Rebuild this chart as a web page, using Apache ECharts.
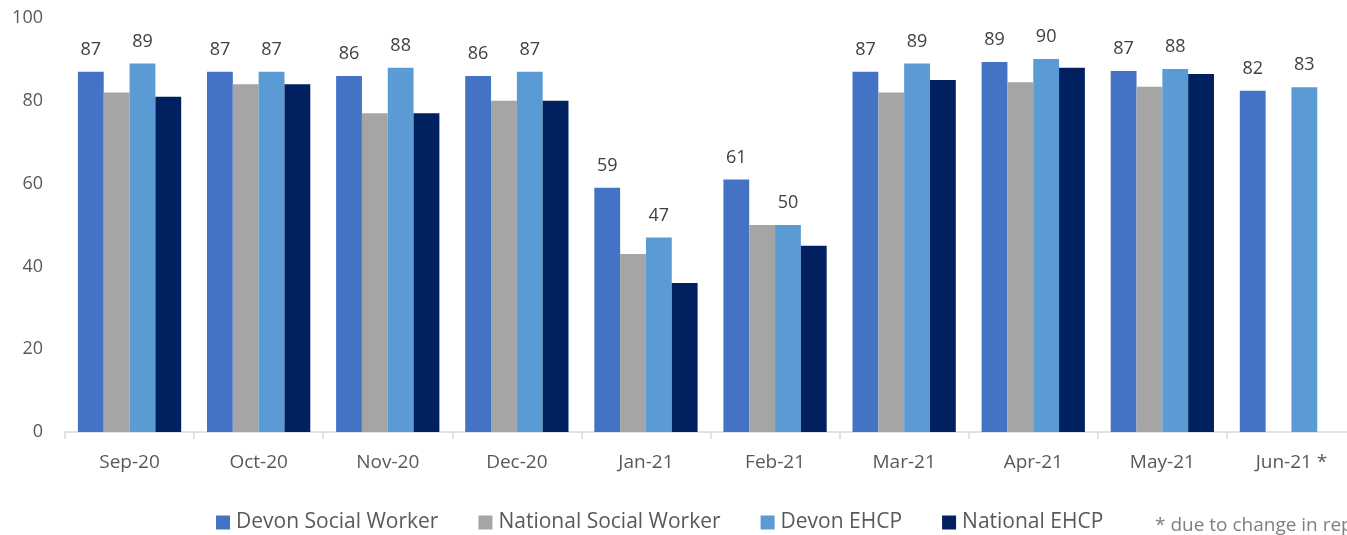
<!DOCTYPE html>
<html>
<head>
<meta charset="utf-8">
<script src="https://cdn.jsdelivr.net/npm/echarts@6/dist/echarts.min.js"></script>
<style>
  html, body { margin: 0; padding: 0; background: #fff; overflow: hidden; }
  /* the source chart is cut off on the right, so the canvas runs past the window */
  #chart { width: 1356px; height: 535px; }
</style>
</head>
<body>
<div id="chart"></div>
<script>
// months along the x axis
const months = ['Sep-20', 'Oct-20', 'Nov-20', 'Dec-20', 'Jan-21', 'Feb-21', 'Mar-21', 'Apr-21', 'May-21', 'Jun-21 *']
// percentages
const devonSocialWorker = [87, 87, 86, 86, 59, 61, 87, 89.4, 87.2, 82.4]
const nationalSocialWorker = [82, 84, 77, 80, 43, 50, 82, 84.5, 83.4, null]
const devonEhcp = [89, 87, 88, 87, 47, 50, 89, 90.1, 87.7, 83.3]
const nationalEhcp = [81, 84, 77, 80, 36, 45, 85, 88, 86.5, null]
const yTicks = [0, 20, 40, 60, 80, 100]

const fontFamily = '"Open Sans", "Noto Sans", sans-serif'

let mychart = echarts.init(document.getElementById('chart'))

function barSeries (name, data, color, showLabel) {
  return {
    name: name,
    type: 'bar',
    barGap: 0,
    barCategoryGap: '20%',
    data: data,
    itemStyle: { color: color },
    label: {
      show: showLabel,
      position: 'top',
      distance: 13,
      color: '#404040',
      fontSize: 18,
      fontFamily: fontFamily,
      formatter: p => Math.round(p.value)
    }
  }
}

mychart.setOption({
  animation: false,
  grid: {
    left: 65,
    right: 0,
    top: 18,
    bottom: 103
  },
  legend: {
    data: ['Devon Social Worker', 'National Social Worker', 'Devon EHCP', 'National EHCP'],
    bottom: -3,
    left: 211,
    itemWidth: 14,
    itemHeight: 14,
    itemGap: 40,
    icon: 'rect',
    textStyle: { color: '#595959', fontSize: 21, fontFamily: fontFamily, padding: [0, 0, 0, 1] }
  },
  xAxis: {
    type: 'category',
    data: months,
    axisLine: { lineStyle: { color: '#d9d9d9', width: 1.5 } },
    axisTick: { show: true, length: 7, lineStyle: { color: '#d9d9d9', width: 1.5 } },
    axisLabel: { color: '#595959', fontSize: 19, fontFamily: fontFamily, margin: 21 }
  },
  yAxis: {
    type: 'value',
    min: yTicks[0],
    max: yTicks[yTicks.length - 1],
    interval: 20,
    splitLine: { show: false },
    axisLine: { show: false },
    axisTick: { show: false },
    axisLabel: { color: '#595959', fontSize: 18, fontFamily: fontFamily, margin: 22 }
  },
  graphic: [
    {
      type: 'text',
      left: 1155,
      top: 516,
      style: {
        text: '* due to change in reporting',
        fill: '#7f7f7f',
        fontSize: 19,
        fontFamily: fontFamily
      }
    }
  ],
  series: [
    barSeries('Devon Social Worker', devonSocialWorker, '#4472c4', true),
    barSeries('National Social Worker', nationalSocialWorker, '#a5a5a5', false),
    barSeries('Devon EHCP', devonEhcp, '#5b9bd5', true),
    barSeries('National EHCP', nationalEhcp, '#002060', false)
  ]
})
</script>
</body>
</html>
